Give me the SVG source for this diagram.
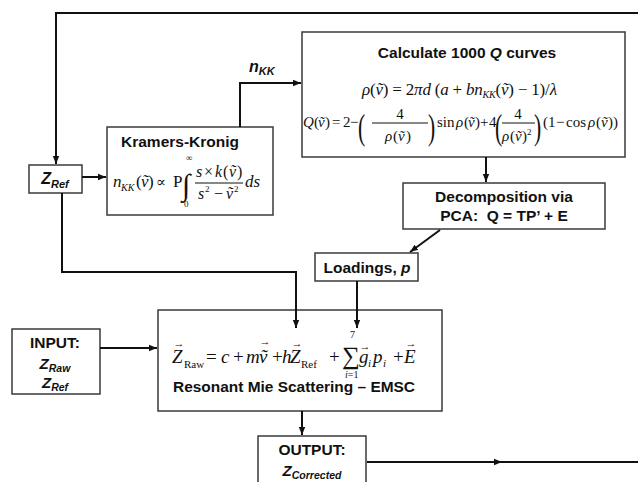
<svg xmlns="http://www.w3.org/2000/svg" width="638" height="482" viewBox="0 0 638 482">
<style>
.box{fill:#fff;stroke:#3a3a3a;stroke-width:1.5}
.ln{fill:none;stroke:#111;stroke-width:2}
.t{font-family:"Liberation Sans",Arial,sans-serif;font-weight:bold;fill:#111}
.m{font-family:"Liberation Serif","DejaVu Serif",serif;fill:#111}
.i{font-style:italic}
.ar{font-family:"Liberation Serif","DejaVu Serif",serif;fill:#111;font-size:11px;text-anchor:middle}
.bar{stroke:#111;stroke-width:1}
</style>
<defs>
<marker id="ah" viewBox="0 0 10 10" refX="10" refY="5" markerWidth="8" markerHeight="8" markerUnits="userSpaceOnUse" orient="auto"><path d="M0,1 L10,5 L0,9 z" fill="#111"/></marker>
<marker id="am" viewBox="0 0 10 10" refX="5" refY="5" markerWidth="8" markerHeight="8" markerUnits="userSpaceOnUse" orient="auto"><path d="M0,1 L10,5 L0,9 z" fill="#111"/></marker>
</defs>
<rect width="638" height="482" fill="#fff"/>

<g id="zref">
<rect class="box" x="29" y="165" width="53" height="28"/>
<text class="t" x="55" y="184" font-size="16" font-style="italic" text-anchor="middle">Z<tspan font-size="11" dy="4">Ref</tspan></text>
</g>

<g id="kramers-kronig">
<rect class="box" x="107" y="127" width="166" height="88"/>
<text class="t" x="180" y="147" font-size="15.5" text-anchor="middle">Kramers-Kronig</text>
<text class="m" y="187" font-size="17"><tspan x="113" class="i">n</tspan><tspan x="121" y="191" class="i" font-size="10">KK</tspan><tspan x="136" y="187">(</tspan><tspan x="141" class="i">ṽ</tspan><tspan x="148">)</tspan></text>
<text class="m" x="156" y="187" font-size="15">∝</text>
<text class="m" x="173" y="187" font-size="17">P</text>
<text class="m" x="182" y="195" font-size="30">∫</text>
<text class="m" x="186" y="161" font-size="9">∞</text>
<text class="m" x="184" y="207" font-size="9">0</text>
<text class="m" y="177" font-size="16"><tspan x="196" class="i">s</tspan><tspan x="204">×</tspan><tspan x="215" class="i">k</tspan><tspan x="223">(</tspan><tspan x="229" class="i">ṽ</tspan><tspan x="237">)</tspan></text>
<line class="bar" x1="195" y1="183" x2="243" y2="183"/>
<text class="m" y="199" font-size="16"><tspan x="198" class="i">s</tspan><tspan x="205" y="192" font-size="9">2</tspan><tspan x="214" y="199">−</tspan><tspan x="226" class="i">ṽ</tspan><tspan x="234" y="192" font-size="9">2</tspan></text>
<text class="m i" x="245" y="187" font-size="17">ds</text>
</g>

<g id="calculate">
<rect class="box" x="302" y="32" width="323" height="125"/>
<text class="t" x="467" y="58" font-size="15.5" text-anchor="middle">Calculate 1000 <tspan font-style="italic">Q</tspan> curves</text>
<text class="m" x="362" y="95" font-size="17" textLength="195" lengthAdjust="spacing"><tspan class="i">ρ</tspan>(<tspan class="i">ṽ</tspan>) = 2<tspan class="i">πd</tspan> (<tspan class="i">a</tspan> + <tspan class="i">bn</tspan><tspan class="i" font-size="10" dy="3">KK</tspan><tspan dy="-3">(</tspan><tspan class="i">ṽ</tspan>) − 1)/<tspan class="i">λ</tspan></text>
<text class="m" y="127" font-size="15"><tspan x="303" class="i">Q</tspan><tspan x="314">(</tspan><tspan x="318" class="i">ṽ</tspan><tspan x="325">)</tspan><tspan x="332">=</tspan><tspan x="343">2</tspan><tspan x="350">−</tspan></text>
<text class="m" font-size="36" transform="translate(358,139) scale(0.6,1)">(</text>
<text class="m" x="400" y="119" font-size="15" text-anchor="middle">4</text>
<line class="bar" x1="372" y1="123" x2="428" y2="123"/>
<text class="m" y="141" font-size="15"><tspan x="385" class="i">ρ</tspan><tspan x="393">(</tspan><tspan x="398" class="i">ṽ</tspan><tspan x="406">)</tspan></text>
<text class="m" font-size="36" transform="translate(428,139) scale(0.6,1)">)</text>
<text class="m" y="127" font-size="15"><tspan x="437">sin</tspan><tspan x="456" class="i">ρ</tspan><tspan x="464">(</tspan><tspan x="468" class="i">ṽ</tspan><tspan x="475">)</tspan><tspan x="480">+</tspan><tspan x="489">4</tspan></text>
<text class="m" font-size="36" transform="translate(495,139) scale(0.6,1)">(</text>
<text class="m" x="518" y="119" font-size="15" text-anchor="middle">4</text>
<line class="bar" x1="502" y1="123" x2="535" y2="123"/>
<text class="m" y="141" font-size="15"><tspan x="502" class="i">ρ</tspan><tspan x="510">(</tspan><tspan x="515" class="i">ṽ</tspan><tspan x="522">)</tspan><tspan x="527" y="135" font-size="9">2</tspan></text>
<text class="m" font-size="36" transform="translate(534,139) scale(0.6,1)">)</text>
<text class="m" y="127" font-size="15"><tspan x="543">(</tspan><tspan x="548">1</tspan><tspan x="556">−</tspan><tspan x="566">cos</tspan><tspan x="588" class="i">ρ</tspan><tspan x="596">(</tspan><tspan x="601" class="i">ṽ</tspan><tspan x="608">))</tspan></text>
</g>

<g id="decomposition">
<rect class="box" x="403" y="183" width="202" height="46"/>
<text class="t" x="504" y="202" font-size="15.5" text-anchor="middle">Decomposition via</text>
<text class="t" x="504" y="221" font-size="15.5" text-anchor="middle">PCA:&#160; Q = TP’ + E</text>
</g>

<g id="loadings">
<rect class="box" x="315" y="253" width="103" height="28"/>
<text class="t" x="367" y="273" font-size="15.5" text-anchor="middle">Loadings, <tspan font-style="italic">p</tspan></text>
</g>

<g id="input">
<rect class="box" x="12" y="329" width="88" height="65"/>
<text class="t" x="55" y="348" font-size="15.5" text-anchor="middle">INPUT:</text>
<text class="t" x="55" y="369" font-size="15" font-style="italic" text-anchor="middle">Z<tspan font-size="10.5" dy="3">Raw</tspan></text>
<text class="t" x="55" y="388" font-size="15" font-style="italic" text-anchor="middle">Z<tspan font-size="10.5" dy="3">Ref</tspan></text>
</g>

<g id="emsc">
<rect class="box" x="158" y="310" width="284" height="101"/>
<text class="m" y="363" font-size="19"><tspan x="172" class="i">Z</tspan><tspan x="184" y="368" font-size="11">Raw</tspan><tspan x="206" y="363">=</tspan><tspan x="221" class="i">c</tspan><tspan x="233">+</tspan><tspan x="246" class="i">m</tspan><tspan x="259" class="i">ṽ</tspan><tspan x="272">+</tspan><tspan x="282" class="i">h</tspan><tspan x="290" class="i">Z</tspan><tspan x="301" y="368" font-size="11">Ref</tspan><tspan x="329" y="363">+</tspan></text>
<text class="ar" x="179" y="347">→</text>
<text class="ar" x="265" y="345">→</text>
<text class="ar" x="297" y="347">→</text>
<text class="m" x="342" y="364" font-size="25">∑</text>
<text class="m" x="350" y="338" font-size="10">7</text>
<text class="m" x="345" y="378" font-size="10"><tspan class="i">i</tspan>=1</text>
<text class="m" y="363" font-size="19"><tspan x="359" class="i">g</tspan><tspan x="368" y="367" class="i" font-size="11">i</tspan><tspan x="373" y="363" class="i">p</tspan><tspan x="383" y="367" class="i" font-size="11">i</tspan><tspan x="393" y="363">+</tspan><tspan x="404" class="i">E</tspan></text>
<text class="ar" x="365" y="350">→</text>
<text class="ar" x="411" y="347">→</text>
<text class="t" x="173" y="392" font-size="15.5" textLength="242" lengthAdjust="spacingAndGlyphs">Resonant Mie Scattering – EMSC</text>
</g>

<g id="output">
<rect class="box" x="258" y="436" width="108" height="50"/>
<text class="t" x="312" y="455" font-size="15.5" text-anchor="middle">OUTPUT:</text>
<text class="t" x="312" y="476" font-size="15" font-style="italic" text-anchor="middle">Z<tspan font-size="10.5" dy="3">Corrected</tspan></text>
</g>

<g id="connectors">
<path class="ln" d="M638,13 H56 V164" marker-end="url(#ah)"/>
<path class="ln" d="M82,177 H106" marker-end="url(#ah)"/>
<path class="ln" d="M240,127 V83 H301" marker-end="url(#ah)"/>
<path class="ln" d="M486,157 V182" marker-end="url(#ah)"/>
<path class="ln" d="M440,230 L410,252" marker-end="url(#ah)"/>
<path class="ln" d="M357,281 V328" marker-end="url(#ah)"/>
<path class="ln" d="M62,193 V272 H296 V328" marker-end="url(#ah)"/>
<path class="ln" d="M100,348 H157" marker-end="url(#ah)"/>
<path class="ln" d="M302,411 V435" marker-end="url(#ah)"/>
<path class="ln" d="M367,462 L498,462 L638,462" marker-mid="url(#am)"/>
<text class="t" x="249" y="72" font-size="16" font-style="italic">n<tspan font-size="11" dy="3">KK</tspan></text>
</g>
</svg>
